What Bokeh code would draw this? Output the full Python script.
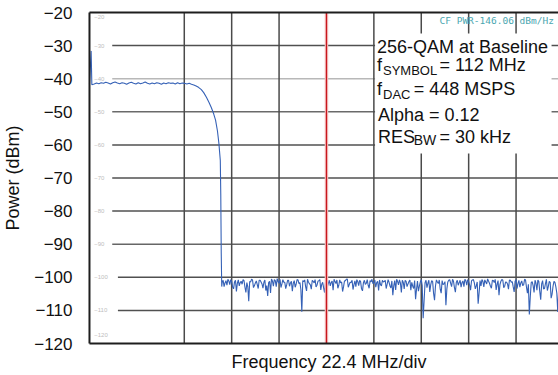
import numpy as np
from bokeh.plotting import figure
from bokeh.models import Range1d, FixedTicker, Label, Title
from bokeh.core.properties import value
from bokeh.embed import file_html
from bokeh.resources import INLINE

# ---------------- data ----------------
y_ticks = [-20, -30, -40, -50, -60, -70, -80, -90, -100, -110, -120]
y_tick_labels = ["\u221220", "\u221230", "\u221240", "\u221250", "\u221260", "\u221270",
                 "\u221280", "\u221290", "\u2212100", "\u2212110", "\u2212120"]

grid_divs = [2, 3, 4, 6, 7, 8, 9]          # vertical graticule (divisions)
marker_div = [5]                            # red centre marker
hgrid_levels = [-30, -40, -50, -60, -70, -80, -90, -100, -110]
hgrid_start = [0.48, 0.48, 0.48, 0.48, 0.48, 0.48, 0.48, 0.6, 0.6]
hgrid_colors = ["#505050", "#b8b8b8", "#6a6a6a", "#505050", "#505050",
                "#505050", "#666666", "#505050", "#505050"]

inner_labels = ["\u221220", "\u221230", "\u221240", "\u221250", "\u221260", "\u221270",
                "\u221280", "\u221290", "\u2212100", "\u2212110", "\u2212120"]
inner_label_y = [-21.5, -30, -40, -50, -60, -70, -80, -90, -100, -110, -117.3]

spike_freq = [0.0, 0.035, 0.05]
spike_dbm = [-41.6, -31.6, -41.8]

pass_dbm = [-41.6, -41.3, -41.5, -41.2, -41.4, -41.1, -41.3, -41.6, -41.2, -41.0,
            -41.3, -41.5, -41.2, -41.4, -41.7, -41.3, -41.1, -41.4, -41.6, -41.2,
            -41.5, -41.3, -41.0, -41.4, -41.6, -41.3, -41.5, -41.2, -41.4, -41.7,
            -41.3, -41.5, -41.2, -41.4, -41.3, -41.6, -41.2, -41.5, -41.3, -41.4,
            -41.6, -41.4, -41.7, -41.9, -42.2]
pass_freq = np.linspace(0.10, 2.25, len(pass_dbm))

roll_freq = [2.30, 2.36, 2.41, 2.47, 2.52, 2.57, 2.62, 2.66, 2.70, 2.73, 2.76, 2.77, 2.78, 2.79]
roll_dbm = [-42.6, -43.3, -44.2, -45.7, -47.1, -48.7, -50.6, -52.5, -55.8, -59.5, -64.7,
            -75.0, -92.8, -102.8]

# noise floor, sweep points at 2.80, 2.84, ... 10.00 div
noise_dbm = [
    -101.5, -102.8, -101.0, -100.6, -102.2, -101.3, -103.5, -100.9, -101.8, -102.6,
    -101.2, -100.7, -103.0, -101.6, -107.2, -101.4, -100.8, -102.5, -101.1, -103.4,
    -100.9, -102.0, -101.5, -104.0, -105.6, -101.2, -100.5, -102.7, -101.0, -100.4,
    -101.8, -103.1, -100.7, -101.5, -102.3, -100.9, -101.7, -104.2, -101.0, -102.1,
    -100.8, -101.6, -110.4, -101.3, -102.8, -100.6, -101.9, -103.6, -101.2, -100.7,
    -102.4, -101.0, -103.8, -101.5, -104.6, -100.5, -101.8, -102.6, -101.1, -100.6,
    -101.9, -103.3, -100.8, -101.4, -102.9, -101.0, -100.5, -102.2, -101.6, -103.7,
    -101.1, -100.7, -102.5, -101.3, -104.1, -100.9, -101.8, -102.4, -101.0, -100.6,
    -101.7, -103.0, -101.2, -100.8, -102.6, -101.4, -100.9, -102.1, -101.5, -103.2,
    -105.4, -101.0, -100.6, -102.3, -101.7, -100.9, -103.5, -101.2, -102.0, -100.8,
    -101.5, -103.4, -106.6, -101.1, -102.7, -100.7, -112.4, -101.6, -103.1, -100.9,
    -102.2, -101.3, -106.9, -100.8, -101.9, -103.6, -101.0, -102.0, -108.4, -101.4,
    -100.7, -102.8, -101.2, -104.5, -100.9, -101.6, -103.0, -101.1, -100.6, -102.4,
    -101.3, -103.9, -100.8, -101.7, -102.6, -108.0, -101.0, -100.7, -102.9, -101.4,
    -100.5, -101.8, -103.3, -101.0, -100.6, -102.1, -105.4, -101.2, -100.8, -102.7,
    -101.5, -103.6, -100.9, -101.3, -104.4, -100.7, -101.9, -103.0, -101.1, -102.3,
    -100.8, -104.8, -111.2, -101.6, -102.5, -100.9, -103.9, -101.3, -106.8, -101.0,
    -103.4, -100.6, -102.8, -101.5, -105.1, -101.2, -102.9, -110.5, -101.7, -103.6,
    -101.4]
noise_freq = np.linspace(2.80, 10.0, len(noise_dbm))

# noise floor, in-between sweep points at 2.82, 2.86, ... 9.98 div
noise_mid_dbm = [
    -100.9, -101.7, -102.4, -101.1, -100.7, -102.9, -101.4, -104.3, -100.8, -101.6,
    -102.1, -101.0, -104.6, -102.8, -101.3, -100.6, -103.1, -101.7, -102.2, -100.9,
    -101.4, -103.3, -100.8, -102.5, -101.6, -104.7, -101.1, -100.7, -102.8, -101.3,
    -100.6, -102.0, -101.5, -103.4, -100.9, -102.7, -101.2, -101.8, -103.0, -100.7,
    -101.9, -103.7, -101.0, -100.8, -104.1, -101.5, -102.3, -100.9, -101.7, -102.9,
    -101.2, -100.7, -102.1, -103.2, -101.4, -102.8, -100.9, -101.6, -103.9, -101.3,
    -100.8, -102.4, -101.7, -104.3, -101.1, -100.6, -103.0, -101.5, -100.9, -102.2,
    -102.8, -101.3, -100.9, -103.5, -101.6, -102.1, -100.7, -103.3, -101.4, -101.9,
    -100.8, -101.6, -104.0, -102.2, -100.9, -101.3, -103.4, -100.7, -102.6, -101.1,
    -102.5, -103.8, -101.2, -100.8, -104.6, -101.5, -100.9, -102.8, -101.3, -103.9,
    -102.7, -101.0, -103.6, -104.2, -101.4, -102.5, -107.1, -100.9, -101.8, -104.4,
    -101.0, -104.9, -102.6, -101.4, -100.8, -104.8, -102.2, -101.3, -103.5, -100.9,
    -101.8, -100.6, -103.1, -101.5, -102.4, -100.9, -101.6, -102.8, -101.0, -100.7,
    -102.3, -101.1, -100.7, -103.5, -101.4, -104.7, -102.6, -101.2, -100.8, -102.0,
    -101.2, -102.7, -100.9, -101.6, -103.8, -101.0, -102.2, -100.7, -103.1, -101.4,
    -102.0, -100.8, -101.5, -102.9, -101.2, -103.4, -100.9, -101.7, -102.5, -100.6,
    -103.0, -102.1, -105.9, -101.3, -104.6, -101.8, -100.8, -104.2, -102.0, -103.5,
    -101.9, -104.0, -101.2, -106.3, -102.7, -101.5, -104.8, -103.2, -101.0, -102.4]
noise_mid_freq = np.linspace(2.82, 9.98, len(noise_mid_dbm))

annotation_lines = [
    # (text, page_x, page_baseline, font_px)
    ("256-QAM at Baseline", 375, 54, 18),
    ("f", 375, 71.5, 18),
    ("SYMBOL", 381, 75, 13),
    ("= 112 MHz", 438, 71.5, 18),
    ("f", 375, 96, 18),
    ("DAC", 381, 99.5, 13),
    ("= 448 MSPS", 412, 96, 18),
    ("Alpha = 0.12", 376, 121.5, 18),
    ("RES", 376, 144, 18),
    ("BW", 412, 145, 14),
    ("= 30 kHz", 438, 144, 18),
]

# ---------------- layout ----------------
W, H = 558, 375
PX_DIV = 47.8             # pixels per division
PX_DB = 3.31              # pixels per dB
BL, BT, BB = 83, 10, 30   # borders
X0_PAGE, Y0_PAGE = 85, 12  # position of (0 div, -20 dBm)
BASELINE_FIX = 0.39       # label baseline correction (em)

x_start = -(X0_PAGE - BL) / PX_DIV
x_end = x_start + (W - BL) / PX_DIV
y_end = -20 + (Y0_PAGE - BT) / PX_DB
y_start = y_end - (H - BT - BB) / PX_DB


def px_x(page_x):
    return (page_x - X0_PAGE) / PX_DIV


def px_y(page_y):
    return -20 - (page_y - Y0_PAGE) / PX_DB


FONT = "Liberation Sans"

p = figure(width=W, height=H, output_backend="svg", toolbar_location=None,
           x_range=Range1d(x_start, x_end), y_range=Range1d(y_start, y_end),
           x_axis_location=None, min_border_left=BL, min_border_right=0,
           min_border_top=BT, min_border_bottom=BB)
p.outline_line_color = None
p.grid.visible = False
p.background_fill_color = "white"

ax = p.yaxis[0]
ax.ticker = FixedTicker(ticks=y_ticks)
ax.major_label_overrides = {t: l for t, l in zip(y_ticks, y_tick_labels)}
ax.major_label_text_font = FONT
ax.major_label_text_font_size = "17px"
ax.major_label_text_color = "#111111"
ax.major_label_standoff = 9
ax.major_tick_line_color = None
ax.minor_tick_line_color = None
ax.axis_line_color = None
ax.axis_label = "Power (dBm)"
ax.axis_label_text_font = FONT
ax.axis_label_text_font_size = "18px"
ax.axis_label_text_font_style = "normal"
ax.axis_label_text_color = "#111111"
ax.axis_label_standoff = 8

# horizontal graticule
p.segment(x0=hgrid_start, x1=[x_end + 1] * len(hgrid_levels), y0=hgrid_levels, y1=hgrid_levels,
          line_color=hgrid_colors, line_width=1.5)
# vertical graticule
p.segment(x0=grid_divs, x1=grid_divs, y0=[-120] * len(grid_divs), y1=[-20] * len(grid_divs),
          line_color="#4a4a4a", line_width=1.5)

# tiny instrument labels
p.text(x=[0.1] * len(inner_labels), y=inner_label_y, text=inner_labels,
       text_font=value(FONT), text_font_size="6px", text_color="#bdbdbd",
       text_baseline="middle", text_align="left")

# trace
nf = np.concatenate([noise_freq, noise_mid_freq])
nd = np.concatenate([noise_dbm, noise_mid_dbm])
order = np.argsort(nf)
trace_x = list(spike_freq) + list(pass_freq) + list(roll_freq) + list(nf[order])
trace_y = list(spike_dbm) + list(pass_dbm) + list(roll_dbm) + list(nd[order])
p.line(trace_x, trace_y, line_color="#3561b6", line_width=1.1)

# red marker
p.segment(x0=marker_div, x1=marker_div, y0=[-120], y1=[-20], line_color="#f5c4c4", line_width=3.5)
p.segment(x0=marker_div, x1=marker_div, y0=[-120], y1=[-20], line_color="#c8161d", line_width=1.3)

# borders
p.segment(x0=[0, 0, 0], x1=[0, x_end + 1, x_end + 1], y0=[-120, -20, -120], y1=[-20, -20, -120],
          line_color="#1e1e1e", line_width=2)

# annotation box
p.quad(left=[px_x(373)], right=[px_x(551)], top=[px_y(33)], bottom=[px_y(153)],
       fill_color="white", line_color=None)

# teal instrument readout
p.add_layout(Label(x=px_x(438), y=px_y(23.5 - 9.5 * BASELINE_FIX), text="CF PWR-146.06 dBm/Hz",
                   text_font="DejaVu Sans Mono", text_font_size="9.5px",
                   text_color="#4aa6b0", text_baseline="alphabetic"))

for txt, xp, yp, fs in annotation_lines:
    p.add_layout(Label(x=px_x(xp), y=px_y(yp - fs * BASELINE_FIX), text=txt, text_font=FONT,
                       text_font_size=f"{fs}px", text_color="#111111",
                       text_baseline="alphabetic", text_align="left"))

# x axis title
p.add_layout(Title(text="Frequency 22.4 MHz/div", align="left", offset=227 - BL,
                   text_font=FONT, text_font_size="18px", text_font_style="normal",
                   text_color="#111111", standoff=8), "below")

open("out.html", "w").write(file_html(p, INLINE))
